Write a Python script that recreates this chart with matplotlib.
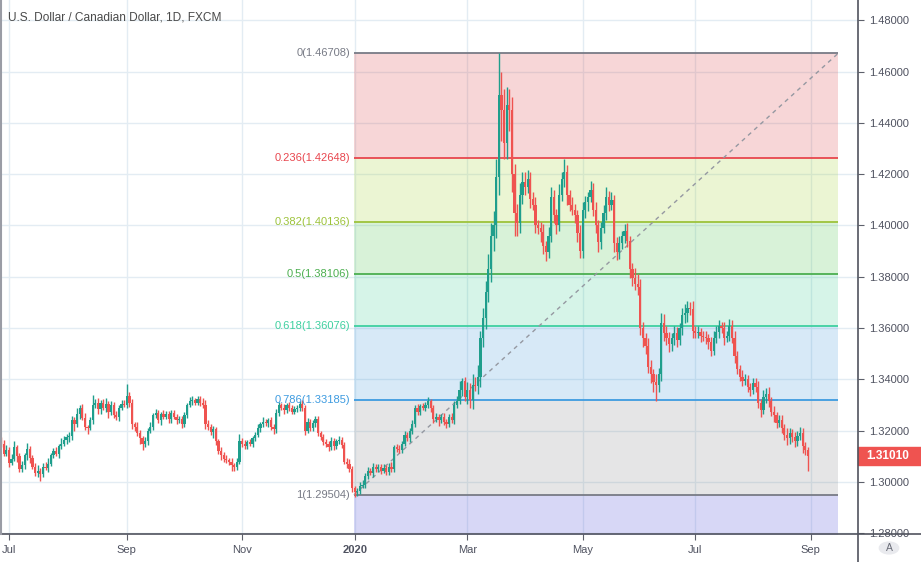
import numpy as np
import pandas as pd
import matplotlib
matplotlib.use("Agg")
import matplotlib.pyplot as plt
from matplotlib.patches import Rectangle, Circle

# ---------------- data ----------------
first_date = "2019-06-26"
last_date = "2020-08-31"
first_open = 1.3165

closes = [
    # Jun 26-28 2019
    1.3150, 1.3110, 1.3125,
    # Jul 2019
    1.3075, 1.3090, 1.3135, 1.3100, 1.3050, 1.3065, 1.3105, 1.3130, 1.3095, 1.3060,
    1.3035, 1.3045, 1.3030, 1.3060, 1.3055, 1.3070, 1.3105, 1.3120, 1.3110, 1.3140,
    1.3150, 1.3165, 1.3175,
    # Aug 2019
    1.3180, 1.3240, 1.3225, 1.3265, 1.3290, 1.3250, 1.3215, 1.3210, 1.3240, 1.3300,
    1.3310, 1.3285, 1.3310, 1.3290, 1.3305, 1.3275, 1.3300, 1.3260, 1.3255, 1.3290,
    1.3305, 1.3300,
    # Sep 2019
    1.3335, 1.3310, 1.3225, 1.3215, 1.3190, 1.3170, 1.3150, 1.3160, 1.3200, 1.3215,
    1.3260, 1.3270, 1.3240, 1.3265, 1.3255, 1.3265, 1.3245, 1.3270, 1.3255, 1.3240,
    1.3245,
    # Oct 2019
    1.3225, 1.3260, 1.3300, 1.3315, 1.3320, 1.3310, 1.3325, 1.3310, 1.3300, 1.3225,
    1.3215, 1.3195, 1.3205, 1.3160, 1.3120, 1.3105, 1.3090, 1.3085, 1.3080, 1.3065,
    1.3060, 1.3080, 1.3160,
    # Nov 2019
    1.3150, 1.3140, 1.3155, 1.3150, 1.3170, 1.3185, 1.3210, 1.3225, 1.3235, 1.3230,
    1.3240, 1.3215, 1.3205, 1.3270, 1.3300, 1.3290, 1.3280, 1.3300, 1.3290, 1.3275,
    1.3285,
    # Dec 2019
    1.3290, 1.3305, 1.3290, 1.3200, 1.3235, 1.3210, 1.3230, 1.3245, 1.3190, 1.3175,
    1.3155, 1.3150, 1.3135, 1.3160, 1.3140, 1.3160, 1.3165, 1.3145, 1.3080, 1.3070,
    1.3050, 1.2975,
    # Jan 2020
    1.2960, 1.2965, 1.2985, 1.2990, 1.3025, 1.3045, 1.3035, 1.3060, 1.3050, 1.3060,
    1.3045, 1.3055, 1.3040, 1.3060, 1.3050, 1.3135, 1.3130, 1.3125, 1.3150, 1.3185,
    1.3170, 1.3200, 1.3225,
    # Feb 2020
    1.3290, 1.3275, 1.3295, 1.3290, 1.3300, 1.3315, 1.3290, 1.3245, 1.3255, 1.3240,
    1.3255, 1.3235, 1.3225, 1.3255, 1.3240, 1.3300, 1.3315, 1.3360, 1.3395, 1.3330,
    # Mar 2020
    1.3360, 1.3320, 1.3380, 1.3375, 1.3410, 1.3560, 1.3640, 1.3740, 1.3830, 1.3960,
    1.4000, 1.4190, 1.4510, 1.4450, 1.4320, 1.4470, 1.4450, 1.4200, 1.4050, 1.4010,
    1.4120, 1.4170,
    # Apr 2020
    1.4150, 1.4180, 1.4105, 1.4080, 1.4000, 1.3990, 1.3975, 1.3920, 1.3895, 1.3960,
    1.4110, 1.4040, 1.4000, 1.4120, 1.4180, 1.4210, 1.4120, 1.4080, 1.4060, 1.4040,
    1.3970, 1.3900,
    # May 2020
    1.4060, 1.4090, 1.4110, 1.4140, 1.4060, 1.4000, 1.3935, 1.3990, 1.4050, 1.4110,
    1.4080, 1.4100, 1.3930, 1.3895, 1.3930, 1.3960, 1.3980, 1.3940, 1.3830, 1.3795,
    1.3770,
    # Jun 2020
    1.3760, 1.3600, 1.3560, 1.3530, 1.3450, 1.3420, 1.3390, 1.3380, 1.3420, 1.3620,
    1.3580, 1.3560, 1.3540, 1.3560, 1.3580, 1.3555, 1.3600, 1.3650, 1.3660, 1.3680,
    1.3675, 1.3590,
    # Jul 2020
    1.3580, 1.3585, 1.3570, 1.3565, 1.3560, 1.3545, 1.3510, 1.3560, 1.3585, 1.3610,
    1.3600, 1.3560, 1.3570, 1.3610, 1.3560, 1.3490, 1.3440, 1.3410, 1.3395, 1.3400,
    1.3370, 1.3360, 1.3385,
    # Aug 2020
    1.3370, 1.3310, 1.3280, 1.3330, 1.3345, 1.3315, 1.3275, 1.3260, 1.3230, 1.3240,
    1.3210, 1.3185, 1.3170, 1.3190, 1.3175, 1.3160, 1.3180, 1.3190, 1.3140, 1.3125,
    1.3101,
]

# wick lengths above / below the candle body, in pips (0.0001)
upper_wick_pips = [
    10, 15, 20,
    12, 20, 25, 10, 15, 18, 8, 22, 12, 10, 15, 20, 9, 14, 18, 25, 10, 12, 16, 9, 20, 14, 11,
    14, 18, 12, 25, 10, 16, 20, 9, 15, 40, 12, 18, 10, 14, 22, 9, 15, 12, 18, 10, 13, 16,
    48, 15, 12, 10, 18, 14, 9, 16, 12, 20, 10, 14, 12, 9, 15, 11, 13, 10, 12, 9, 14,
    12, 15, 10, 18, 14, 9, 12, 10, 16, 20, 18, 12, 14, 10, 9, 15, 12, 16, 10, 14, 9, 12, 28,
    10, 12, 9, 14, 10, 12, 15, 10, 18, 12, 9, 14, 10, 16, 12, 10, 14, 9, 12, 10, 11,
    12, 10, 15, 9, 14, 11, 10, 13, 12, 9, 14, 12, 10, 15, 11, 9, 13, 10, 12, 14, 18, 12,
    10, 12, 14, 18, 12, 15, 10, 14, 12, 10, 9, 16, 12, 14, 18, 10, 12, 15, 11, 14, 12, 10, 16,
    12, 15, 10, 14, 12, 18, 10, 12, 15, 10, 12, 14, 10, 12, 15, 14, 20, 35, 10, 15,
    30, 25, 40, 30, 45, 30, 40, 45, 60, 50, 55, 70, 161, 90, 80, 70, 60, 50, 40, 35, 45, 40,
    40, 35, 30, 25, 30, 20, 25, 30, 20, 35, 40, 30, 25, 40, 30, 50, 25, 20, 30, 25, 20, 30,
    30, 25, 20, 35, 25, 30, 20, 25, 30, 40, 25, 30, 20, 25, 30, 20, 25, 30, 20, 25, 40,
    40, 30, 25, 20, 30, 25, 20, 30, 25, 40, 35, 30, 25, 20, 30, 25, 20, 30, 35, 25, 20, 30,
    20, 25, 15, 20, 25, 18, 20, 30, 25, 20, 15, 22, 18, 25, 20, 30, 20, 15, 25, 20, 18, 15, 20,
    20, 25, 15, 30, 20, 25, 18, 20, 15, 22, 20, 18, 25, 20, 15, 20, 18, 25, 20, 15, 10,
]
lower_wick_pips = [
    12, 10, 8,
    15, 10, 8, 20, 12, 9, 14, 18, 22, 10, 12, 16, 25, 11, 9, 14, 8, 13, 10, 17, 12, 9, 15,
    20, 15, 25, 12, 18, 10, 14, 22, 9, 15, 12, 18, 20, 10, 16, 25, 12, 10, 14, 18, 11, 9,
    12, 18, 20, 15, 10, 22, 25, 12, 15, 9, 14, 12, 10, 16, 11, 9, 13, 15, 10, 12, 9,
    14, 10, 12, 9, 15, 11, 10, 13, 12, 20, 14, 10, 22, 15, 12, 18, 12, 10, 14, 20, 15, 12, 10,
    14, 10, 12, 9, 15, 11, 10, 13, 12, 10, 14, 12, 16, 15, 12, 10, 14, 9, 12, 10, 11,
    10, 14, 12, 15, 9, 12, 10, 14, 11, 13, 10, 12, 15, 9, 14, 12, 10, 13, 11, 15, 12, 14,
    20, 15, 12, 10, 14, 12, 9, 15, 10, 12, 14, 10, 11, 13, 9, 12, 14, 10, 12, 11, 9, 13, 12,
    10, 12, 14, 9, 12, 10, 15, 14, 12, 20, 10, 12, 15, 10, 9, 12, 10, 12, 25, 15,
    25, 30, 35, 20, 30, 40, 35, 45, 40, 50, 60, 50, 70, 120, 60, 60, 80, 70, 90, 50, 40, 35,
    30, 25, 35, 20, 30, 25, 40, 30, 35, 20, 25, 30, 35, 20, 25, 30, 40, 25, 20, 30, 35, 25,
    25, 30, 35, 20, 25, 30, 40, 25, 20, 30, 25, 20, 35, 30, 25, 20, 30, 25, 35, 30, 20,
    30, 25, 35, 30, 25, 35, 40, 65, 30, 25, 30, 25, 35, 30, 25, 30, 20, 25, 30, 35, 25, 30,
    18, 20, 25, 15, 20, 25, 20, 15, 18, 22, 20, 25, 15, 20, 18, 25, 20, 15, 22, 18, 20, 25, 15,
    18, 20, 25, 15, 20, 22, 18, 25, 20, 15, 18, 20, 25, 20, 18, 22, 20, 18, 25, 20, 57,
]

tick_months = ["2019-07", "2019-09", "2019-11", "2020-01", "2020-03", "2020-05", "2020-07", "2020-09"]
tick_labels = ["Jul", "Sep", "Nov", "2020", "Mar", "May", "Jul", "Sep"]

fib_ratios = ["0", "0.236", "0.382", "0.5", "0.618", "0.786", "1"]
fib_prices = [1.46708, 1.42648, 1.40136, 1.38106, 1.36076, 1.33185, 1.29504]
fib_start_bar = 134.7
fib_end_bar = 319.5

price_ticks = [1.28, 1.30, 1.32, 1.34, 1.36, 1.38, 1.40, 1.42, 1.44, 1.46, 1.48]
title = "U.S. Dollar / Canadian Dollar, 1D, FXCM"

# ---------------- build ----------------
dates = pd.bdate_range(first_date, last_date)
n = len(closes)
assert len(dates) == n == len(upper_wick_pips) == len(lower_wick_pips)
c = np.array(closes)
o = np.concatenate([[first_open], c[:-1]])
hi = np.maximum(o, c) + np.array(upper_wick_pips) * 1e-4
lo = np.minimum(o, c) - np.array(lower_wick_pips) * 1e-4
x = np.arange(n)

ext_dates = pd.bdate_range(first_date, "2020-12-31")
tick_pos = [int(np.searchsorted(ext_dates, pd.Timestamp(m + "-01"))) for m in tick_months]

W, H = 921, 562
fig = plt.figure(figsize=(W / 100, H / 100), dpi=100)
fig.patch.set_facecolor("white")
ax = fig.add_axes([0, 28 / H, 858 / W, 1 - 28 / H])
ax.set_facecolor("white")

up_col = "#1f9e8c"
dn_col = "#ef5350"
grid_col = "#e3ecf3"
text_col = "#4f5260"
sans = ["Liberation Sans", "DejaVu Sans"]

ax.set_xlim(-0.4, 327.1)
ax.set_ylim(1.27976, 1.48787)

# grid
for p in price_ticks:
    ax.axhline(p, color=grid_col, lw=1, zorder=0.5)
for t in tick_pos:
    ax.axvline(t, color=grid_col, lw=1, zorder=0.5)

# fib bands
fib_line_cols = ["#787b86", "#e8464e", "#9dc33b", "#4caf50", "#3fd0a0", "#3d9be0", "#787b86"]
fib_fill_cols = [(0.85, 0.2, 0.22, 0.2), (0.62, 0.82, 0.15, 0.2), (0.25, 0.75, 0.25, 0.2),
                 (0.2, 0.8, 0.55, 0.2), (0.22, 0.58, 0.85, 0.2), (0.45, 0.45, 0.47, 0.18)]
below_fill = (0.3, 0.3, 0.85, 0.22)
fx = [fib_start_bar, fib_end_bar]
for i in range(len(fib_prices) - 1):
    ax.fill_between(fx, fib_prices[i + 1], fib_prices[i], color=fib_fill_cols[i], lw=0, zorder=1)
ax.fill_between(fx, 1.20, fib_prices[-1], color=below_fill, lw=0, zorder=1)
for i, p in enumerate(fib_prices):
    ax.plot(fx, [p, p], color=fib_line_cols[i], lw=1.3, zorder=2, solid_capstyle="butt")
    ax.text(fib_start_bar - 1.5, p, f"{fib_ratios[i]}({p:.5f})", color=fib_line_cols[i],
            ha="right", va="center", fontsize=8, family=sans, zorder=6)
ax.plot([fib_start_bar, fib_end_bar], [fib_prices[-1], fib_prices[0]], color="#9598a1",
        lw=1, ls=(0, (3, 3)), zorder=2.5)

# candles
cols = np.where(c >= o, up_col, dn_col)
ax.vlines(x, lo, hi, colors=cols, lw=1, zorder=3)
body_h = np.maximum(np.abs(c - o), 0.0004)
ax.bar(x, body_h, bottom=np.minimum(o, c), width=0.85, color=cols, lw=0, zorder=4)

# axes styling
for s in ["top", "left", "bottom", "right"]:
    ax.spines[s].set_visible(False)
ax.yaxis.tick_right()
ax.set_yticks(price_ticks)
ax.set_yticklabels([f"{p:.5f}" for p in price_ticks])
ax.tick_params(axis="y", length=4, width=0.8, color="#5d606b", labelsize=8, labelcolor=text_col, pad=4)
ax.set_xticks(tick_pos)
ax.set_xticklabels(tick_labels)
ax.tick_params(axis="x", length=4, width=0.8, color="#5d606b", labelsize=8, labelcolor=text_col, pad=4,
               direction="out")
for lab in ax.get_xticklabels() + ax.get_yticklabels():
    lab.set_family(sans)
for lab in ax.get_xticklabels():
    if lab.get_text() == "2020":
        lab.set_fontweight("bold")

# frame lines
fig.add_artist(plt.Line2D([858 / W, 858 / W], [0, 1], color="#50535e", lw=1.2))
fig.add_artist(plt.Line2D([0, 1], [28 / H, 28 / H], color="#50535e", lw=1.2))
fig.add_artist(plt.Line2D([1 / W, 1 / W], [28 / H, 1], color="#9a9ca5", lw=1.5))

# last price tag
last = closes[-1]
ax.add_patch(Rectangle((1.0, last - 0.0036), 63 / 858, 0.0072, transform=ax.get_yaxis_transform(),
                       color=dn_col, clip_on=False, zorder=10))
ax.text(1.0 + 8 / 858, last, f"{last:.5f}", transform=ax.get_yaxis_transform(), color="white",
        fontsize=8.5, fontweight="bold", family=sans, ha="left", va="center", zorder=11, clip_on=False)

# "A" button
fig.add_artist(Circle((889 / W, 14 / H), 0.0105, transform=fig.transFigure, color="#e9eaee"))
fig.text(889 / W, 14 / H, "A", ha="center", va="center", fontsize=7.5, color="#6a6d78", family=sans)

# title
fig.text(8 / W, 1 - 17 / H, title, ha="left", va="center", fontsize=8.6, color="#4a4a4a", family=sans)

fig.savefig("out.png", dpi=100)
